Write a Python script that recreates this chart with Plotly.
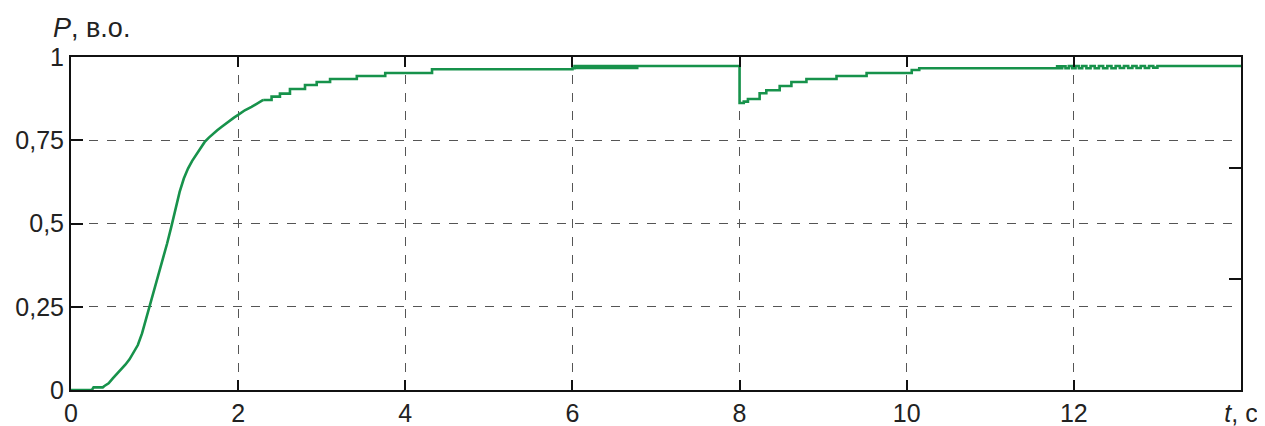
import plotly.graph_objects as go

# --- start-up (smooth part), time s / power p.u.
t_rise = [0.00, 0.25, 0.27, 0.38, 0.40, 0.45, 0.50, 0.55, 0.60, 0.65, 0.70, 0.75, 0.80,
          0.85, 0.90, 0.95, 1.00, 1.05, 1.10, 1.15, 1.20, 1.25, 1.30, 1.35, 1.40, 1.45,
          1.50, 1.55, 1.60, 1.65, 1.70, 1.75, 1.80, 1.85, 1.90, 1.95, 2.00, 2.08, 2.16,
          2.23, 2.30]
P_rise = [0.000, 0.000, 0.008, 0.008, 0.012, 0.020, 0.035, 0.048, 0.062, 0.076, 0.092,
          0.112, 0.135, 0.170, 0.215, 0.260, 0.300, 0.345, 0.390, 0.440, 0.490, 0.545,
          0.595, 0.635, 0.665, 0.688, 0.708, 0.727, 0.745, 0.758, 0.770, 0.780, 0.790,
          0.800, 0.810, 0.818, 0.826, 0.840, 0.850, 0.861, 0.871]

# --- stepped part (sample-and-hold), time s / power p.u.
t_step = [2.30, 2.40, 2.50, 2.62, 2.80, 2.94, 3.10, 3.42, 3.76, 4.32, 6.00,
          6.025, 6.05, 6.075, 6.10, 6.125, 6.15, 6.175, 6.20, 6.225, 6.25, 6.275, 6.30,
          6.325, 6.35, 6.375, 6.40, 6.425, 6.45, 6.475, 6.50, 6.525, 6.55, 6.575, 6.60,
          6.625, 6.65, 6.675, 6.70, 6.725, 6.75, 6.775,
          6.80, 8.00, 8.05, 8.10, 8.24, 8.32, 8.48, 8.62, 8.80, 9.16, 9.52, 10.06, 10.15,
          11.80, 11.83, 11.86, 11.90, 11.94, 11.98, 12.02, 12.06, 12.10, 12.15, 12.20,
          12.25, 12.30, 12.35, 12.40, 12.45, 12.50, 12.55, 12.60, 12.65, 12.70, 12.75,
          12.80, 12.85, 12.90, 12.95, 13.00, 14.00]
P_step = [0.871, 0.881, 0.890, 0.904, 0.916, 0.925, 0.934, 0.943, 0.952, 0.963, 0.966,
          0.973, 0.967, 0.973, 0.967, 0.973, 0.967, 0.973, 0.967, 0.973, 0.967, 0.973,
          0.967, 0.973, 0.967, 0.973, 0.967, 0.973, 0.967, 0.973, 0.967, 0.973, 0.967,
          0.973, 0.967, 0.973, 0.967, 0.973, 0.967, 0.973, 0.967, 0.973,
          0.973, 0.862, 0.866, 0.874, 0.891, 0.900, 0.913, 0.925, 0.934, 0.943, 0.952,
          0.961, 0.966,
          0.972, 0.966, 0.972, 0.966, 0.973, 0.966, 0.973, 0.966, 0.973, 0.966, 0.973,
          0.966, 0.973, 0.966, 0.973, 0.966, 0.973, 0.967, 0.973, 0.967, 0.973, 0.967,
          0.973, 0.967, 0.973, 0.968, 0.973, 0.973]

x_ticks = [0, 2, 4, 6, 8, 10, 12, 14]
x_labels = ["0", "2", "4", "6", "8", "10", "12", "<i>t</i>, с"]
y_ticks = [0, 0.25, 0.5, 0.75, 1]
y_labels = ["0", "0,25", "0,5", "0,75", "1"]
right_ticks = [1 / 3, 2 / 3]

FONT = "Liberation Sans, Arial, sans-serif"
GREEN = "#17924b"

fig = go.Figure()
fig.add_trace(go.Scatter(x=t_rise, y=P_rise, mode="lines",
                         line=dict(color=GREEN, width=2.6, shape="linear"),
                         showlegend=False, hoverinfo="skip"))
fig.add_trace(go.Scatter(x=t_step, y=P_step, mode="lines",
                         line=dict(color=GREEN, width=2.6, shape="hv"),
                         showlegend=False, hoverinfo="skip"))
# invisible trace for right axis ticks
fig.add_trace(go.Scatter(x=[0], y=[0], yaxis="y2", mode="markers",
                         marker=dict(opacity=0), showlegend=False, hoverinfo="skip"))

fig.update_layout(
    width=1265, height=426,
    margin=dict(l=63, r=32, t=49, b=44),
    paper_bgcolor="white", plot_bgcolor="white",
    font=dict(family=FONT, size=25, color="#222"),
    xaxis=dict(range=[0, 14], tickvals=x_ticks, ticktext=x_labels, automargin=False,
               ticks="inside", ticklen=10, tickwidth=2, tickcolor="#111",
               showline=True, linecolor="#111", linewidth=2, mirror="ticks",
               showgrid=True, gridcolor="#555", griddash="dash", gridwidth=1,
               zeroline=False, tickfont=dict(size=25)),
    yaxis=dict(range=[0, 1], tickvals=y_ticks, ticktext=y_labels, automargin=False,
               ticks="inside", ticklen=12, tickwidth=2, tickcolor="#111",
               showline=True, linecolor="#111", linewidth=2, mirror=True,
               showgrid=True, gridcolor="#555", griddash="dash", gridwidth=1,
               zeroline=False, tickfont=dict(size=25)),
    yaxis2=dict(range=[0, 1], overlaying="y", side="right", tickvals=right_ticks,
                showticklabels=False, ticks="inside", ticklen=12, tickwidth=2,
                automargin=False,
                tickcolor="#111", showgrid=False, zeroline=False, showline=False),
    annotations=[dict(text="<i>P</i>, в.о.", xref="paper", yref="paper",
                      x=-0.017, y=1.035, xanchor="left", yanchor="bottom",
                      showarrow=False, font=dict(size=27, color="#222"))],
)

fig.write_html("out.html")
